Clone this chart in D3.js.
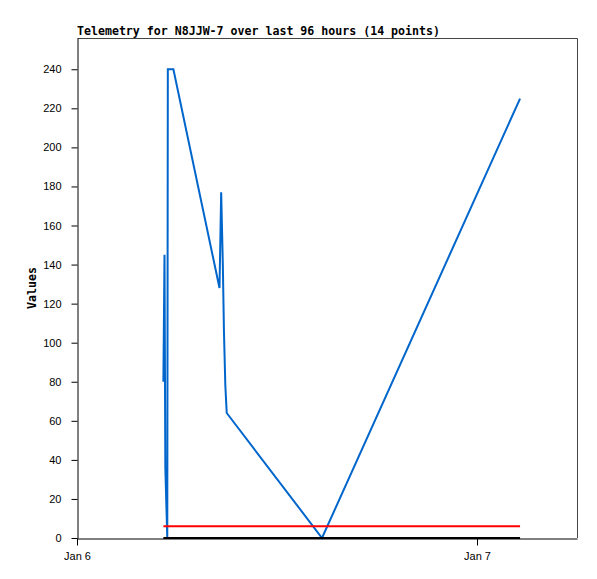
<!DOCTYPE html>
<html>
<head>
<meta charset="utf-8">
<script src="https://cdn.jsdelivr.net/npm/d3@7"></script>
<style>
  body { margin: 0; background: #fff; }
</style>
</head>
<body>
<div id="chart"></div>
<script>
// telemetry samples (time, value) for the blue channel
var times = [
  "2024-01-06 05:11", "2024-01-06 05:15", "2024-01-06 05:18", "2024-01-06 05:25",
  "2024-01-06 05:27", "2024-01-06 05:47", "2024-01-06 08:33", "2024-01-06 08:39",
  "2024-01-06 08:45", "2024-01-06 08:49", "2024-01-06 08:54", "2024-01-06 08:59",
  "2024-01-06 14:42", "2024-01-07 02:35"
];
var blueValues = [80, 145, 36, 0, 240, 240, 128, 177, 140, 106, 78, 64, 0, 225];
var redValues  = [6, 6, 6, 6, 6, 6, 6, 6, 6, 6, 6, 6, 6, 6];
var blackValues = [0, 0, 0, 0, 0, 0, 0, 0, 0, 0, 0, 0, 0, 0];
var yTicks = [0, 20, 40, 60, 80, 100, 120, 140, 160, 180, 200, 220, 240];
var xTicks = ["2024-01-06 00:00", "2024-01-07 00:00"];
var xDomain = ["2024-01-06 00:00", "2024-01-07 06:00"];
var yMax = 256;

var parse = d3.timeParse("%Y-%m-%d %H:%M");

// set the dimensions and margins of the graph
var margin = {top: 38, right: 20, bottom: 41, left: 77},
    width = 597 - margin.left - margin.right,
    height = 579 - margin.top - margin.bottom;

var svg = d3.select("#chart")
  .append("svg")
    .attr("width", width + margin.left + margin.right)
    .attr("height", height + margin.top + margin.bottom)
  .append("g")
    .attr("transform", "translate(" + margin.left + "," + margin.top + ")");

var x = d3.scaleTime()
  .domain(xDomain.map(parse))
  .range([0, width]);

var y = d3.scaleLinear()
  .domain([0, yMax])
  .range([height, 0]);

// frame (top and right)
svg.append("path")
  .attr("d", "M0.5,0.5H" + (width + 0.5) + "V" + height)
  .attr("fill", "none")
  .attr("stroke", "#444")
  .attr("stroke-width", 1);

// Y axis
svg.append("g")
  .attr("transform", "translate(0.5,0)")
  .call(d3.axisLeft(y).tickValues(yTicks).tickSize(6).tickPadding(10).tickSizeOuter(0));

// X axis
svg.append("g")
  .attr("transform", "translate(0," + (height + 0.5) + ")")
  .call(d3.axisBottom(x).tickValues(xTicks.map(parse)).tickFormat(d3.timeFormat("%b %-d"))
    .tickSize(7).tickPadding(7).tickSizeOuter(0));

svg.selectAll(".tick text")
  .attr("font-family", "Liberation Sans, Arial, sans-serif")
  .attr("font-size", "11px")
  .attr("fill", "#000");
svg.selectAll(".domain, .tick line").attr("stroke", "#000");

// series lines
var series = [
  {values: blueValues, color: "#0066cc"},
  {values: redValues, color: "#ff0000"},
  {values: blackValues, color: "#000000"}
];

var line = d3.line()
  .x(function(d) { return x(d.t); })
  .y(function(d) { return y(d.v); });

series.forEach(function(s) {
  var pts = times.map(function(t, i) { return {t: parse(t), v: s.values[i]}; });
  svg.append("path")
    .datum(pts)
    .attr("d", line)
    .attr("fill", "none")
    .attr("stroke", s.color)
    .attr("stroke-width", 2)
    .attr("stroke-linejoin", "miter");
});

// title
svg.append("text")
  .attr("x", 0)
  .attr("y", -3)
  .attr("font-family", "DejaVu Sans Mono, monospace")
  .attr("font-weight", "bold")
  .attr("font-size", "11.6px")
  .text("Telemetry for N8JJW-7 over last 96 hours (14 points)");

// y label
svg.append("text")
  .attr("transform", "translate(-41," + (height / 2) + ") rotate(-90)")
  .attr("text-anchor", "middle")
  .attr("font-family", "DejaVu Sans Mono, monospace")
  .attr("font-weight", "bold")
  .attr("font-size", "11.6px")
  .text("Values");
</script>
</body>
</html>
